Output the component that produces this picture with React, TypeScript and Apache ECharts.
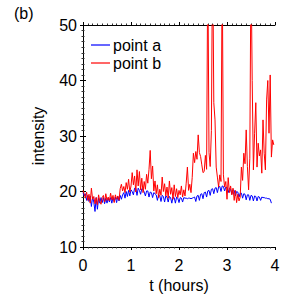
import React, { useEffect, useRef } from "react";
import * as echarts from "echarts";

const STEP_HOURS = 0.025;

const pointA: number[] = [
  19.8, 19.2, 19.6, 18.4, 19.3, 18.2, 19.2, 17.3, 19.0, 18.1, 16.4,
  18.9, 16.8, 18.8, 17.9, 18.9, 18.0, 18.9, 17.8, 18.8, 17.9,
  18.8, 18.1, 18.9, 17.9, 18.9, 18.2, 19.0, 18.0, 19.1, 18.3,
  19.3, 18.6, 19.4, 19.8, 18.8, 20.0, 19.1, 20.2, 19.2, 20.3,
  20.0, 19.4, 20.6, 20.6, 19.3, 20.6, 20.2, 19.5, 20.5, 20.4,
  19.9, 19.2, 20.1, 20.1, 19.0, 19.9, 19.8, 18.9, 19.8, 19.6,
  19.4, 18.4, 19.4, 19.2, 18.2, 19.3, 19.1, 18.1, 19.2, 19.0,
  18.1, 19.1, 18.9, 17.9, 19.0, 18.9, 17.9, 19.0, 18.8, 18.0,
  18.9, 18.8, 18.1, 18.9, 18.8, 18.8, 18.7, 18.8, 18.8, 18.7,
  18.8, 18.9, 19.0, 18.2, 19.2, 19.3, 18.4, 19.5, 19.6, 18.7,
  19.8, 19.9, 19.0, 20.1, 20.2, 19.3, 20.4, 20.5, 19.6, 20.6,
  20.7, 19.8, 20.8, 20.9, 20.0, 21.0, 20.9, 20.1, 20.8, 20.7,
  19.8, 20.6, 20.4, 19.5, 20.3, 20.2, 19.2, 20.0, 19.9, 19.0,
  19.7, 19.7, 18.8, 19.6, 19.5, 18.5, 19.4, 19.4, 18.4, 19.3,
  19.2, 18.3, 19.2, 19.1, 18.3, 19.1, 19.0, 18.4, 19.0, 18.9,
  18.9, 18.8, 18.8, 18.7, 18.7, 18.6, 17.9,
];

const pointB: number[] = [
  20.2, 19.6, 18.8, 19.9, 18.4, 19.5, 17.9, 20.6, 18.6, 19.1, 17.8,
  18.9, 17.6, 19.4, 18.2, 17.7, 18.9, 19.3, 18.1, 19.6, 18.4,
  19.0, 18.3, 19.7, 18.5, 19.3, 18.0, 19.4, 18.6, 19.2, 18.4,
  20.5, 21.3, 20.1, 20.9, 19.8, 21.6, 20.4, 22.2, 19.9, 21.0,
  23.4, 21.2, 22.8, 19.9, 23.9, 21.0, 23.6, 20.3, 22.4, 19.8,
  21.8, 20.4, 23.1, 21.5, 24.0, 27.4, 22.3, 24.6, 20.1, 21.9,
  19.6, 21.2, 18.9, 20.4, 19.3, 22.6, 20.0, 21.4, 19.2, 20.8,
  18.8, 21.9, 19.5, 20.7, 18.6, 21.2, 19.1, 20.5, 18.9, 20.2,
  19.4, 21.0, 19.0, 20.3, 19.2, 21.5, 24.4, 20.2, 21.3, 19.8,
  22.5, 26.9, 25.2, 27.2, 25.8, 30.2, 27.0, 26.3, 24.8, 23.4,
  23.6, 26.5, 24.0, 62.0, 27.0, 24.5, 31.0, 65.0, 36.0, 32.9,
  24.4, 22.6, 20.8, 23.0, 21.8, 62.0, 23.0, 20.8, 21.8, 18.6,
  22.5, 19.8, 21.0, 19.4, 20.6, 18.4, 20.2, 18.0, 19.5, 18.3,
  19.0, 24.4, 22.0, 26.9, 25.0, 31.1, 24.5, 20.3, 26.0, 62.0,
  40.0, 23.9, 30.5, 36.0, 24.4, 28.7, 26.4, 27.5, 23.3, 32.9,
  26.9, 23.9, 36.5, 40.0, 30.5, 41.0, 26.2, 29.3, 28.4,
];

const xTicks = { min: 0, max: 4, interval: 1 };
const yTicks = { min: 10, max: 50, interval: 10 };

const toPairs = (vals: number[]) =>
  vals.map((v, i) => [Number((i * STEP_HOURS).toFixed(3)), v]);

const FONT = "Liberation Sans";

export default function App() {
  const ref = useRef<HTMLDivElement>(null);
  useEffect(() => {
    if (!ref.current) return;
    const chart = echarts.init(ref.current, null, { renderer: "svg" });
    const tickCommon = {
      axisLine: { show: true, lineStyle: { color: "#000", width: 1 } },
      axisTick: { show: true, inside: false, length: 3, lineStyle: { color: "#000" } },
      minorTick: { show: true, splitNumber: 10, length: 1.5, lineStyle: { color: "#333" } },
      splitLine: { show: false },
      minorSplitLine: { show: false },
    };
    chart.setOption({
      animation: false,
      backgroundColor: "#fff",
      textStyle: { fontFamily: FONT },
      grid: { left: 83, right: 25, top: 25, bottom: 53, containLabel: false },
      legend: {
        orient: "vertical",
        left: 86,
        top: 32,
        icon: "rect",
        itemWidth: 19,
        itemHeight: 1.2,
        itemGap: 2,
        textStyle: { fontSize: 16, color: "#000", fontFamily: FONT, padding: [0, 0, 0, -2] },
        data: ["point a", "point b"],
      },
      xAxis: [
        {
          type: "value",
          ...xTicks,
          position: "bottom",
          name: "t (hours)",
          nameLocation: "middle",
          nameGap: 26,
          nameTextStyle: { fontSize: 16, color: "#000", fontFamily: FONT },
          axisLabel: { fontSize: 16, color: "#000", margin: 10, fontFamily: FONT },
          ...tickCommon,
        },
        {
          type: "value",
          ...xTicks,
          position: "top",
          axisLabel: { show: false },
          ...tickCommon,
        },
      ],
      yAxis: [
        {
          type: "value",
          ...yTicks,
          position: "left",
          name: "intensity",
          nameLocation: "middle",
          nameGap: 37,
          nameTextStyle: { fontSize: 16, color: "#000", fontFamily: FONT },
          axisLabel: { fontSize: 16, color: "#000", margin: 6, fontFamily: FONT },
          ...tickCommon,
        },
        {
          type: "value",
          ...yTicks,
          position: "right",
          axisLabel: { show: false },
          ...tickCommon,
        },
      ],
      graphic: [
        {
          type: "text",
          left: 14,
          top: 5,
          style: { text: "(b)", fontSize: 16, fill: "#000", fontFamily: FONT },
        },
      ],
      series: [
        {
          name: "point a",
          type: "line",
          data: toPairs(pointA),
          symbol: "none",
          lineStyle: { color: "#0000ff", width: 1 },
          itemStyle: { color: "#0000ff" },
          clip: true,
        },
        {
          name: "point b",
          type: "line",
          data: toPairs(pointB),
          symbol: "none",
          lineStyle: { color: "#ff0000", width: 1 },
          itemStyle: { color: "#ff0000" },
          clip: true,
        },
      ],
    });
    return () => chart.dispose();
  }, []);
  return <div ref={ref} style={{ width: 300, height: 300, position: "absolute", left: 0, top: 0 }} />;
}
